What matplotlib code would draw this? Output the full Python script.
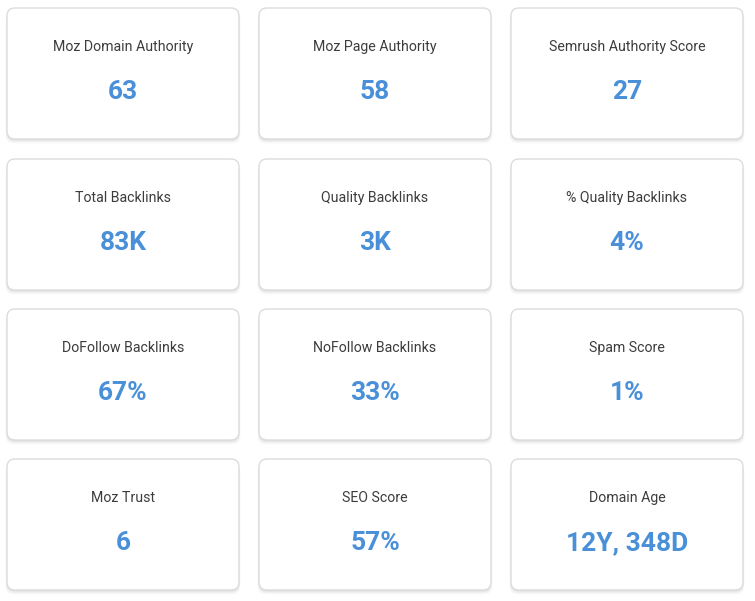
import matplotlib

matplotlib.use("Agg")
import matplotlib.pyplot as plt
from matplotlib.patches import FancyBboxPatch

labels = [
    "Moz Domain Authority", "Moz Page Authority", "Semrush Authority Score",
    "Total Backlinks", "Quality Backlinks", "% Quality Backlinks",
    "DoFollow Backlinks", "NoFollow Backlinks", "Spam Score",
    "Moz Trust", "SEO Score", "Domain Age",
]
values = [
    "63", "58", "27",
    "83K", "3K", "4%",
    "67%", "33%", "1%",
    "6", "57%", "12Y, 348D",
]

W, H = 755, 601
col_x = [7, 259, 511]
row_y = [8, 159, 309, 459]
card_w, card_h = 232, 131

plt.rcParams["font.family"] = ["Roboto", "DejaVu Sans"]
fig = plt.figure(figsize=(W / 100, H / 100), dpi=100)
ax = fig.add_axes([0, 0, 1, 1])
ax.set_xlim(0, W)
ax.set_ylim(H, 0)
ax.axis("off")

for i, (lab, val) in enumerate(zip(labels, values)):
    x = col_x[i % 3]
    y = row_y[i // 3]
    # soft shadow, a few stacked translucent boxes
    for k, a in enumerate([0.04, 0.03, 0.025, 0.02]):
        sh = FancyBboxPatch((x - k * 0.5, y + 1.5 + k), card_w + k, card_h,
                            boxstyle="round,pad=0,rounding_size=8",
                            fc="#000000", ec="none", alpha=a)
        ax.add_patch(sh)
    card = FancyBboxPatch((x, y), card_w, card_h,
                          boxstyle="round,pad=0,rounding_size=8",
                          fc="white", ec="#dcdcdc", lw=1)
    ax.add_patch(card)
    cx = x + card_w / 2
    ax.text(cx, y + 43, lab, ha="center", va="baseline", fontsize=10.2,
            color="#3d3d3d")
    ax.text(cx, y + 91, val, ha="center", va="baseline", fontsize=19,
            fontweight="bold", color="#4a90d9")

fig.savefig("out.png", dpi=100, facecolor="white")
